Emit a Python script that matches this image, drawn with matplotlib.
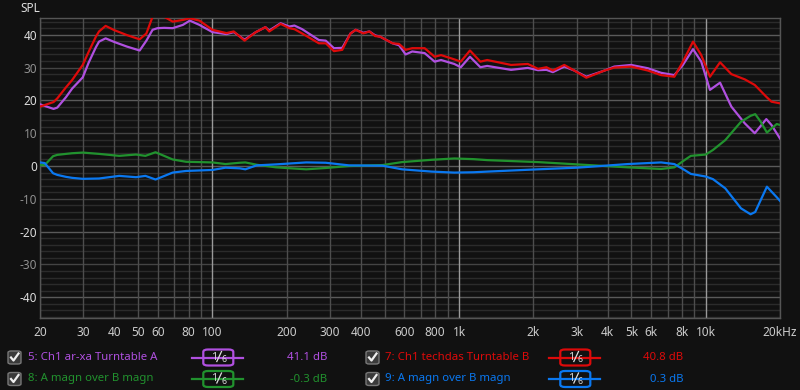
import matplotlib
matplotlib.use('Agg')
import matplotlib.pyplot as plt
from matplotlib.patches import FancyBboxPatch
from matplotlib.lines import Line2D
import numpy as np

# ---- data ----
freq_ab = [20, 22.7, 23.5, 25.5, 27, 29.8, 31.5, 33.7, 34.7, 36.9, 40, 45, 50.7, 54, 57.2, 59.9,
           63.7, 69, 75.9, 81, 88.6, 100, 114, 122, 135, 150, 164, 170, 189, 205, 215, 231, 270,
           288, 311, 336, 363, 381, 409, 433, 457, 479, 537, 571, 607, 646, 725, 796, 845, 956,
           1016, 1107, 1220, 1300, 1625, 1900, 2090, 2260, 2400, 2670, 2930, 3280, 3890, 4260,
           4980, 5820, 6590, 7460, 8080, 8880, 9590, 10400, 11430, 12700, 14400, 15800, 17600,
           18470, 20000]
turntable_a = [18.8, 17.4, 17.8, 21.0, 23.6, 27.0, 31.5, 36.2, 37.9, 38.9, 37.8, 36.4, 35.2, 38.2,
               41.5, 42.0, 42.1, 42.0, 43.0, 44.3, 43.0, 40.8, 40.2, 40.8, 38.5, 40.8, 42.3, 41.3,
               43.5, 42.5, 42.8, 41.7, 38.4, 38.2, 35.9, 36.0, 40.4, 41.5, 40.6, 41.0, 39.8, 39.4,
               37.4, 36.8, 34.0, 34.9, 34.4, 31.8, 32.3, 31.1, 30.1, 33.3, 30.1, 30.5, 29.3, 29.9,
               29.2, 29.3, 28.6, 30.3, 29.1, 27.2, 29.1, 30.3, 30.8, 29.8, 28.4, 27.7, 30.8, 35.6,
               31.8, 23.2, 25.4, 18.1, 13.0, 10.0, 14.3, 12.5, 8.4]
turntable_b = [18.1, 19.5, 20.6, 24.0, 26.2, 30.8, 34.8, 39.4, 41.0, 42.7, 41.4, 39.9, 38.6, 40.4,
               45.5, 47.5, 45.5, 44.0, 44.5, 45.0, 44.3, 41.5, 40.5, 41.0, 38.2, 40.8, 42.3, 41.0,
               43.3, 42.0, 41.7, 40.4, 37.4, 37.4, 35.0, 35.4, 40.4, 41.5, 40.4, 41.0, 39.6, 39.4,
               37.4, 37.2, 35.4, 35.9, 35.9, 33.3, 33.8, 32.5, 31.8, 35.2, 31.8, 32.3, 30.8, 31.1,
               29.6, 30.1, 29.1, 30.8, 29.1, 26.9, 29.1, 30.0, 30.3, 29.1, 27.7, 27.2, 31.8, 37.9,
               33.8, 27.2, 31.6, 28.0, 26.4, 24.7, 21.1, 19.6, 19.1]

freq_diff = [20, 20.9, 22.6, 23.5, 25.5, 27, 29.8, 34.7, 41.9, 49, 53.5, 58.8, 69, 78.2, 100, 113,
             129, 136, 151, 181, 240, 288, 358, 490, 587, 775, 956, 1145, 1300, 2090, 3010, 4830,
             6590, 7460, 8200, 8700, 10000, 10700, 12000, 13900, 15200, 15870, 16700, 17700,
             19400, 20000]
a_over_b_8 = [0.3, 0.3, 3.0, 3.4, 3.7, 3.9, 4.1, 3.7, 3.1, 3.5, 3.1, 4.2, 2.0, 1.3, 1.1, 0.6, 1.0,
              1.1, 0.4, -0.4, -1.0, -0.6, 0.0, 0.3, 1.2, 1.9, 2.3, 2.1, 1.8, 1.2, 0.5, -0.4, -0.9,
              -0.4, 1.8, 3.1, 3.5, 4.9, 7.9, 13.5, 15.3, 15.8, 13.5, 10.2, 12.8, 12.5]
a_over_b_9 = [1.1, 0.9, -2.2, -2.7, -3.3, -3.6, -3.9, -3.8, -3.0, -3.4, -3.0, -4.1, -2.0, -1.5,
              -1.2, -0.5, -0.7, -1.0, 0.2, 0.5, 1.1, 1.0, 0.2, 0.1, -1.0, -1.7, -2.0, -1.9, -1.7,
              -1.0, -0.5, 0.6, 1.1, 0.6, -1.2, -2.4, -3.2, -4.0, -6.8, -12.9, -14.7, -14.0, -10.4,
              -6.3, -9.5, -10.6]

xticks = [20, 30, 40, 50, 60, 80, 100, 200, 300, 400, 600, 800, 1000, 2000, 3000, 4000, 5000,
          6000, 8000, 10000, 20000]
xlabels = ['20', '30', '40', '50', '60', '80', '100', '200', '300', '400', '600', '800', '1k',
           '2k', '3k', '4k', '5k', '6k', '8k', '10k', '20kHz']
yticks = [40, 30, 20, 10, 0, -10, -20, -30, -40]

legend_names = ['5: Ch1 ar-xa Turntable A', '7: Ch1 techdas Turntable B',
                '8: A magn over B magn', '9: A magn over B magn']
legend_values = ['41.1 dB', '40.8 dB', '-0.3 dB', '0.3 dB']

PURPLE = '#b050e0'
RED = '#dd0a0a'
GREEN = '#21922e'
BLUE = '#0a78f0'
BG = '#111111'

plt.rcParams['font.family'] = ['Noto Sans', 'DejaVu Sans']

fig = plt.figure(figsize=(8, 3.9), dpi=100, facecolor=BG)
ax = fig.add_axes([40 / 800, 72 / 390, 740 / 800, 300 / 390])
ax.set_facecolor(BG)
ax.set_xscale('log')
ax.set_xlim(20, 20000)
ax.set_ylim(-46.3, 45.1)

# horizontal grid
for lev in np.arange(-46, 46, 2):
    if lev % 20 == 0:
        c = '#5a5a5a'
    elif lev % 10 == 0:
        c = '#444444'
    else:
        c = '#2b2b2b'
    ax.axhline(lev, color=c, lw=1, zorder=0)

# vertical grid
for dec in [10, 100, 1000, 10000]:
    for m in range(1, 10):
        f = dec * m
        if f < 20 or f > 20000:
            continue
        c = '#9a9a9a' if m == 1 else '#4d4d4d'
        ax.axvline(f, color=c, lw=1, zorder=0.5)

ax.plot(freq_ab, turntable_a, color=PURPLE, lw=1.6, zorder=3)
ax.plot(freq_ab, turntable_b, color=RED, lw=1.6, zorder=3)
ax.plot(freq_diff, a_over_b_8, color=GREEN, lw=1.6, zorder=3)
ax.plot(freq_diff, a_over_b_9, color=BLUE, lw=1.6, zorder=3)

for s in ax.spines.values():
    s.set_color('#555555')
    s.set_linewidth(1)

ax.set_xticks(xticks)
ax.set_xticklabels(xlabels)
ax.xaxis.set_minor_locator(matplotlib.ticker.NullLocator())
ax.set_yticks(yticks)
ax.set_yticklabels([str(v) for v in yticks])
ax.tick_params(axis='x', length=0, pad=6, labelsize=8.5, colors='#cccccc')
ax.tick_params(axis='y', length=0, pad=2, labelsize=8.5)
for lab, v in zip(ax.get_yticklabels(), yticks):
    lab.set_color('#dddddd' if v % 20 == 0 else '#909090')

fig.text(20 / 800, 1 - 8 / 390, 'SPL', color='#dddddd', fontsize=8.5, va='center', ha='left')

# ---- legend strip ----
def px(x, y):
    return x / 800, 1 - y / 390

rows = [357.5, 379]
cols = [(8, 28, 192, 327), (366, 385, 549, 683)]
colors = [PURPLE, RED, GREEN, BLUE]
for i, name in enumerate(legend_names):
    r = rows[i // 2]
    cb_x, txt_x, line_x, val_x = cols[i % 2]
    col = colors[i]
    # checkbox
    bx, by = px(cb_x, r + 6.5)
    fig.patches.append(FancyBboxPatch((bx, by), 13 / 800, 13 / 390,
                                      boxstyle='round,pad=0,rounding_size=0.004',
                                      transform=fig.transFigure, facecolor='#3a3a3a',
                                      edgecolor='#777777', lw=1))
    xs = [cb_x + 3, cb_x + 5.5, cb_x + 10.5]
    ys = [r, r + 3, r - 4]
    fig.add_artist(Line2D([x / 800 for x in xs], [1 - y / 390 for y in ys],
                          transform=fig.transFigure, color='#eeeeee', lw=1.6))
    fig.text(*px(txt_x, r), name, color=col, fontsize=8.2, va='center', ha='left')
    # smoothing badge
    fig.add_artist(Line2D([line_x / 800, (line_x + 51) / 800], [1 - r / 390] * 2,
                          transform=fig.transFigure, color=col, lw=1.6))
    bx0, by0 = px(line_x + 11.3, r + 8)
    fig.patches.append(FancyBboxPatch((bx0, by0), 30 / 800, 16 / 390,
                                      boxstyle='round,pad=0,rounding_size=0.006',
                                      transform=fig.transFigure, facecolor=BG,
                                      edgecolor=col, lw=1.6))
    fig.text(*px(line_x + 22, r - 0.5), '1', color='#dddddd', fontsize=8, va='center', ha='center')
    fig.add_artist(Line2D([(line_x + 24.8) / 800, (line_x + 29.5) / 800],
                          [1 - (r + 4) / 390, 1 - (r - 6) / 390],
                          transform=fig.transFigure, color='#dddddd', lw=0.9))
    fig.text(*px(line_x + 31.5, r + 2.5), '6', color='#dddddd', fontsize=6.3, va='center', ha='center')
    fig.text(*px(val_x, r), legend_values[i], color=col, fontsize=8.2, va='center', ha='right')

fig.savefig('out.png', dpi=100, facecolor=BG)
